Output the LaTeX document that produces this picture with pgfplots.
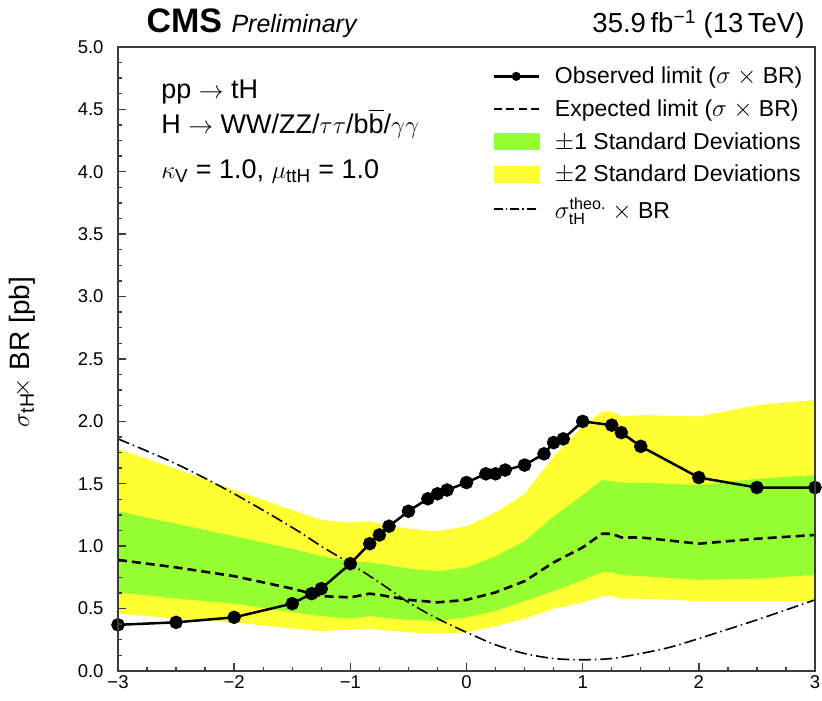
\documentclass[border=0pt]{standalone}
\usepackage{fontspec}
\setmainfont{Liberation Sans}
\usepackage{amsmath}
\usepackage{pgfplots}
\pgfplotsset{compat=1.18}
\usepackage{pgfplotstable}
\usepgfplotslibrary{fillbetween}

\definecolor{cmsgreen}{RGB}{150,255,50}
\definecolor{cmsyellow}{RGB}{255,255,50}
\definecolor{framegray}{RGB}{60,60,60}

\newcommand{\fs}[2]{\fontsize{#1bp}{#2bp}\selectfont}

% expected limit with its 1 and 2 sigma bands
\pgfplotstableread{
k      y2lo y1lo exp  y1hi y2hi
-3     0.46 0.63 0.89 1.28 1.78
-2.5   0.42 0.58 0.83 1.18 1.62
-2     0.39 0.54 0.76 1.08 1.45
-1.5   0.34 0.47 0.66 0.98 1.29
-1.25  0.32 0.44 0.60 0.92 1.21
-1     0.33 0.42 0.59 0.88 1.19
-0.833 0.34 0.44 0.62 0.87 1.20
-0.75  0.33 0.43 0.61 0.86 1.18
-0.5   0.31 0.41 0.57 0.82 1.14
-0.25  0.30 0.40 0.55 0.80 1.12
0      0.31 0.43 0.57 0.83 1.16
0.25   0.36 0.48 0.63 0.92 1.27
0.5    0.42 0.56 0.72 1.04 1.42
0.75   0.50 0.64 0.87 1.24 1.72
1      0.55 0.73 0.99 1.41 1.96
1.167  0.60 0.79 1.10 1.53 2.08
1.25   0.60 0.79 1.10 1.52 2.08
1.333  0.58 0.77 1.07 1.51 2.04
1.5    0.58 0.76 1.07 1.51 2.05
2      0.56 0.73 1.02 1.49 2.04
2.5    0.56 0.74 1.06 1.54 2.13
3      0.56 0.77 1.09 1.57 2.17
}\bands

% observed limit
\pgfplotstableread{
k      obs
-3     0.37
-2.5   0.39
-2     0.43
-1.5   0.54
-1.333 0.62
-1.25  0.66
-1     0.86
-0.833 1.02
-0.75  1.09
-0.667 1.16
-0.5   1.28
-0.333 1.38
-0.25  1.42
-0.167 1.45
0      1.51
0.167  1.58
0.25   1.58
0.333  1.61
0.5    1.65
0.667  1.74
0.75   1.83
0.833  1.86
1      2.00
1.25   1.97
1.333  1.91
1.5    1.80
2      1.55
2.5    1.47
3      1.47
}\observed

% theoretical cross section times branching ratio
\pgfplotstableread{
k     theo
-3    1.86
-2.5  1.66
-2    1.42
-1.5  1.15
-1.25 1.00
-1    0.86
-0.75 0.71
-0.5  0.55
-0.25 0.42
0     0.31
0.25  0.21
0.5   0.14
0.75  0.10
1     0.09
1.25  0.10
1.5   0.14
1.75  0.19
2     0.26
2.5   0.41
3     0.57
}\theory

\pgfplotsset{
  obsstyle/.style={black, line width=2.5bp, mark=*, mark size=5.5bp},
  expstyle/.style={black, line width=2.6bp, dash pattern=on 9bp off 5bp},
  theostyle/.style={black, line width=1.6bp, dash pattern=on 12bp off 4bp on 1.5bp off 4bp},
  linelegend/.style={legend image code/.code={%
    \draw[mark repeat=2,mark phase=2,##1] plot coordinates {(0bp,0bp)(22.5bp,0bp)(45bp,0bp)};}},
  arealegend/.style={legend image code/.code={%
    \fill[##1] (0bp,-8bp) rectangle (45bp,8bp);}},
}

\begin{document}
\begin{tikzpicture}
\begin{axis}[
  at={(0,0)}, anchor=south west, scale only axis,
  width=697bp, height=624bp,
  xmin=-3, xmax=3, ymin=0, ymax=5,
  xtick={-3,-2,-1,0,1,2,3},
  xticklabels={−3,−2,−1,0,1,2,3},
  ytick={0,0.5,1,1.5,2,2.5,3,3.5,4,4.5,5},
  minor x tick num=3, minor y tick num=3,
  tick pos=left, tick align=inside,
  major tick length=8bp, minor tick length=4bp,
  axis line style={line width=1.8bp, framegray},
  tick style={line width=1.4bp, framegray},
  xticklabel style={font=\fs{18.5}{20}, yshift=-1bp},
  yticklabel style={font=\fs{18.5}{20}, xshift=-11bp,
    /pgf/number format/.cd, fixed, fixed zerofill, precision=1, assume math mode=true},
  ylabel={$\sigma_{\text{tH}}\!\times$ BR [pb]},
  ylabel style={font=\fs{28}{30}, at={(axis description cs:-0.138,0.511)}, anchor=center},
  legend cell align=left,
  legend style={draw=none, fill=none, at={(rel axis cs:0.537,0.971)}, anchor=north west,
    font=\fs{23}{25}, inner sep=0pt, row sep=10.5bp,
    /tikz/every odd column/.append style={column sep=13bp}},
  axis on top,
]
% bands
\addplot[name path=y2hi, draw=none, forget plot] table[x=k, y=y2hi] {\bands};
\addplot[name path=y2lo, draw=none, forget plot] table[x=k, y=y2lo] {\bands};
\addplot[name path=y1hi, draw=none, forget plot] table[x=k, y=y1hi] {\bands};
\addplot[name path=y1lo, draw=none, forget plot] table[x=k, y=y1lo] {\bands};
\addplot[cmsyellow, forget plot] fill between[of=y2hi and y2lo];
\addplot[cmsgreen, forget plot] fill between[of=y1hi and y1lo];
% curves
\addplot[expstyle, forget plot] table[x=k, y=exp] {\bands};
\addplot[theostyle, smooth, forget plot] table[x=k, y=theo] {\theory};
\addplot[obsstyle, forget plot] table[x=k, y=obs] {\observed};

% legend
\addlegendimage{linelegend, black, line width=2.5bp, mark=*, mark size=3.2bp}
\addlegendentry{Observed limit ($\sigma$ $\times$ BR)}
\addlegendimage{linelegend, black, line width=2.5bp, dash pattern=on 8bp off 4.5bp}
\addlegendentry{Expected limit ($\sigma$ $\times$ BR)}
\addlegendimage{arealegend, cmsgreen}
\addlegendentry{$\pm$1 Standard Deviations}
\addlegendimage{arealegend, cmsyellow}
\addlegendentry{$\pm$2 Standard Deviations}
\addlegendimage{linelegend, black, line width=1.6bp, dash pattern=on 9bp off 3bp on 1.5bp off 3bp}
\addlegendentry{$\sigma^{\text{theo.}}_{\text{tH}}$ $\times$ BR}

% process description
\node[anchor=base west, font=\fs{27}{29}] at (rel axis cs:0.057,0.918) {pp $\rightarrow$ tH};
\node[anchor=base west, font=\fs{27}{29}] at (rel axis cs:0.057,0.862)
  {H $\rightarrow$ WW/ZZ/$\tau\tau$/b$\overline{\hbox{b}}$/$\gamma\gamma$};
\node[anchor=base west, font=\fs{27}{29}] at (rel axis cs:0.057,0.790)
  {$\kappa_{\text{V}}$ = 1.0, $\mu_{\text{ttH}}$ = 1.0};
\end{axis}
% header
\node[anchor=base west, font=\fs{34}{36}\bfseries] at (25bp,638bp) {CMS};
\node[anchor=base west, font=\fs{25}{27}\itshape] at (110bp,638bp) {Preliminary};
\node[anchor=base east, font=\fs{27.5}{29}] at (690bp,638bp) {35.9\,fb\textsuperscript{−1} (13\,TeV)};
% page frame
\pgfresetboundingbox
\path[use as bounding box] (-118bp,-30bp) rectangle (704bp,671bp);
\end{tikzpicture}
\end{document}
